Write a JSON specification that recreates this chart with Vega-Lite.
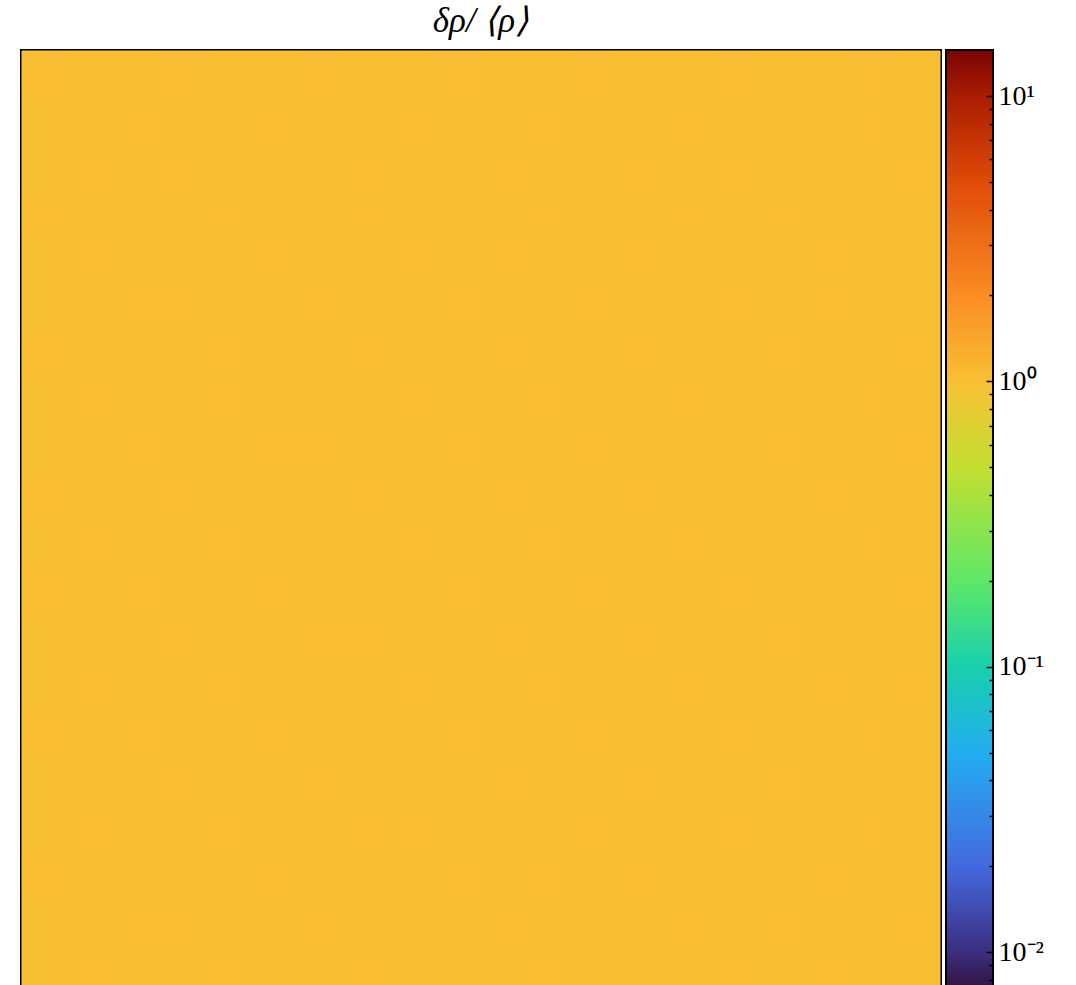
{
  "$schema": "https://vega.github.io/schema/vega-lite/v6.json",
  "width": 918,
  "height": 940,
  "autosize": {"type": "pad"},
  "padding": {"left": 21, "top": 4, "right": 10, "bottom": 0},
  "background": "white",
  "title": {
    "text": "δρ/ ⟨ρ⟩",
    "font": "Liberation Serif",
    "fontSize": 35,
    "fontStyle": "italic",
    "fontWeight": "normal",
    "color": "black",
    "anchor": "middle",
    "frame": "group",
    "offset": 11
  },
  "config": {"view": {"stroke": "black", "strokeWidth": 4, "fill": "#f9bf33"}},
  "resolve": {"scale": {"y": "independent"}, "axis": {"y": "independent"}},
  "layer": [
    {
      "data": {"values": [
        {"r":0,"c":0,"v":1.01},{"r":0,"c":1,"v":0.99},{"r":0,"c":2,"v":1.00},{"r":0,"c":3,"v":1.01},{"r":0,"c":4,"v":0.99},{"r":0,"c":5,"v":1.00},{"r":0,"c":6,"v":1.01},{"r":0,"c":7,"v":0.99},{"r":0,"c":8,"v":1.00},{"r":0,"c":9,"v":1.01},{"r":0,"c":10,"v":0.99},{"r":0,"c":11,"v":1.00},{"r":0,"c":12,"v":1.01},{"r":0,"c":13,"v":0.99},{"r":0,"c":14,"v":1.00},{"r":0,"c":15,"v":1.01},{"r":0,"c":16,"v":0.99},{"r":0,"c":17,"v":1.00},{"r":0,"c":18,"v":1.01},{"r":0,"c":19,"v":1.00},
        {"r":1,"c":0,"v":0.99},{"r":1,"c":1,"v":1.00},{"r":1,"c":2,"v":1.01},{"r":1,"c":3,"v":1.00},{"r":1,"c":4,"v":0.99},{"r":1,"c":5,"v":1.01},{"r":1,"c":6,"v":0.99},{"r":1,"c":7,"v":1.00},{"r":1,"c":8,"v":1.01},{"r":1,"c":9,"v":1.00},{"r":1,"c":10,"v":0.99},{"r":1,"c":11,"v":1.01},{"r":1,"c":12,"v":1.00},{"r":1,"c":13,"v":0.99},{"r":1,"c":14,"v":1.01},{"r":1,"c":15,"v":1.00},{"r":1,"c":16,"v":1.00},{"r":1,"c":17,"v":0.99},{"r":1,"c":18,"v":1.01},{"r":1,"c":19,"v":0.99},
        {"r":2,"c":0,"v":1.00},{"r":2,"c":1,"v":1.01},{"r":2,"c":2,"v":0.99},{"r":2,"c":3,"v":1.01},{"r":2,"c":4,"v":1.00},{"r":2,"c":5,"v":0.99},{"r":2,"c":6,"v":1.00},{"r":2,"c":7,"v":1.01},{"r":2,"c":8,"v":0.99},{"r":2,"c":9,"v":1.00},{"r":2,"c":10,"v":1.01},{"r":2,"c":11,"v":0.99},{"r":2,"c":12,"v":1.00},{"r":2,"c":13,"v":1.01},{"r":2,"c":14,"v":0.99},{"r":2,"c":15,"v":1.01},{"r":2,"c":16,"v":1.00},{"r":2,"c":17,"v":0.99},{"r":2,"c":18,"v":1.00},{"r":2,"c":19,"v":1.01},
        {"r":3,"c":0,"v":1.01},{"r":3,"c":1,"v":0.99},{"r":3,"c":2,"v":1.00},{"r":3,"c":3,"v":0.99},{"r":3,"c":4,"v":1.01},{"r":3,"c":5,"v":1.00},{"r":3,"c":6,"v":0.99},{"r":3,"c":7,"v":1.01},{"r":3,"c":8,"v":1.00},{"r":3,"c":9,"v":0.99},{"r":3,"c":10,"v":1.00},{"r":3,"c":11,"v":1.01},{"r":3,"c":12,"v":0.99},{"r":3,"c":13,"v":1.00},{"r":3,"c":14,"v":1.01},{"r":3,"c":15,"v":0.99},{"r":3,"c":16,"v":1.01},{"r":3,"c":17,"v":1.00},{"r":3,"c":18,"v":0.99},{"r":3,"c":19,"v":1.00},
        {"r":4,"c":0,"v":0.99},{"r":4,"c":1,"v":1.01},{"r":4,"c":2,"v":1.00},{"r":4,"c":3,"v":1.00},{"r":4,"c":4,"v":0.99},{"r":4,"c":5,"v":1.01},{"r":4,"c":6,"v":1.00},{"r":4,"c":7,"v":0.99},{"r":4,"c":8,"v":1.01},{"r":4,"c":9,"v":1.00},{"r":4,"c":10,"v":1.01},{"r":4,"c":11,"v":0.99},{"r":4,"c":12,"v":1.00},{"r":4,"c":13,"v":1.01},{"r":4,"c":14,"v":0.99},{"r":4,"c":15,"v":1.00},{"r":4,"c":16,"v":0.99},{"r":4,"c":17,"v":1.01},{"r":4,"c":18,"v":1.00},{"r":4,"c":19,"v":0.99},
        {"r":5,"c":0,"v":1.00},{"r":5,"c":1,"v":0.99},{"r":5,"c":2,"v":1.01},{"r":5,"c":3,"v":1.01},{"r":5,"c":4,"v":1.00},{"r":5,"c":5,"v":0.99},{"r":5,"c":6,"v":1.01},{"r":5,"c":7,"v":1.00},{"r":5,"c":8,"v":0.99},{"r":5,"c":9,"v":1.01},{"r":5,"c":10,"v":1.00},{"r":5,"c":11,"v":0.99},{"r":5,"c":12,"v":1.01},{"r":5,"c":13,"v":1.00},{"r":5,"c":14,"v":0.99},{"r":5,"c":15,"v":1.01},{"r":5,"c":16,"v":1.00},{"r":5,"c":17,"v":1.01},{"r":5,"c":18,"v":0.99},{"r":5,"c":19,"v":1.00},
        {"r":6,"c":0,"v":1.01},{"r":6,"c":1,"v":1.00},{"r":6,"c":2,"v":0.99},{"r":6,"c":3,"v":1.00},{"r":6,"c":4,"v":1.01},{"r":6,"c":5,"v":1.00},{"r":6,"c":6,"v":0.99},{"r":6,"c":7,"v":1.01},{"r":6,"c":8,"v":1.00},{"r":6,"c":9,"v":0.99},{"r":6,"c":10,"v":1.01},{"r":6,"c":11,"v":1.00},{"r":6,"c":12,"v":0.99},{"r":6,"c":13,"v":1.01},{"r":6,"c":14,"v":1.00},{"r":6,"c":15,"v":0.99},{"r":6,"c":16,"v":1.01},{"r":6,"c":17,"v":1.00},{"r":6,"c":18,"v":0.99},{"r":6,"c":19,"v":1.01},
        {"r":7,"c":0,"v":0.99},{"r":7,"c":1,"v":1.01},{"r":7,"c":2,"v":1.00},{"r":7,"c":3,"v":0.99},{"r":7,"c":4,"v":1.01},{"r":7,"c":5,"v":0.99},{"r":7,"c":6,"v":1.00},{"r":7,"c":7,"v":1.00},{"r":7,"c":8,"v":1.01},{"r":7,"c":9,"v":1.00},{"r":7,"c":10,"v":0.99},{"r":7,"c":11,"v":1.01},{"r":7,"c":12,"v":1.00},{"r":7,"c":13,"v":0.99},{"r":7,"c":14,"v":1.01},{"r":7,"c":15,"v":1.00},{"r":7,"c":16,"v":0.99},{"r":7,"c":17,"v":1.00},{"r":7,"c":18,"v":1.01},{"r":7,"c":19,"v":0.99},
        {"r":8,"c":0,"v":1.00},{"r":8,"c":1,"v":0.99},{"r":8,"c":2,"v":1.01},{"r":8,"c":3,"v":1.00},{"r":8,"c":4,"v":0.99},{"r":8,"c":5,"v":1.01},{"r":8,"c":6,"v":1.01},{"r":8,"c":7,"v":0.99},{"r":8,"c":8,"v":1.00},{"r":8,"c":9,"v":1.01},{"r":8,"c":10,"v":1.00},{"r":8,"c":11,"v":0.99},{"r":8,"c":12,"v":1.01},{"r":8,"c":13,"v":1.00},{"r":8,"c":14,"v":0.99},{"r":8,"c":15,"v":1.00},{"r":8,"c":16,"v":1.01},{"r":8,"c":17,"v":0.99},{"r":8,"c":18,"v":1.00},{"r":8,"c":19,"v":1.01},
        {"r":9,"c":0,"v":1.01},{"r":9,"c":1,"v":1.00},{"r":9,"c":2,"v":0.99},{"r":9,"c":3,"v":1.01},{"r":9,"c":4,"v":1.00},{"r":9,"c":5,"v":1.00},{"r":9,"c":6,"v":0.99},{"r":9,"c":7,"v":1.01},{"r":9,"c":8,"v":0.99},{"r":9,"c":9,"v":1.00},{"r":9,"c":10,"v":1.01},{"r":9,"c":11,"v":1.00},{"r":9,"c":12,"v":0.99},{"r":9,"c":13,"v":1.01},{"r":9,"c":14,"v":1.00},{"r":9,"c":15,"v":0.99},{"r":9,"c":16,"v":1.00},{"r":9,"c":17,"v":1.01},{"r":9,"c":18,"v":0.99},{"r":9,"c":19,"v":1.00},
        {"r":10,"c":0,"v":0.99},{"r":10,"c":1,"v":1.01},{"r":10,"c":2,"v":1.00},{"r":10,"c":3,"v":0.99},{"r":10,"c":4,"v":1.01},{"r":10,"c":5,"v":0.99},{"r":10,"c":6,"v":1.00},{"r":10,"c":7,"v":1.00},{"r":10,"c":8,"v":1.01},{"r":10,"c":9,"v":0.99},{"r":10,"c":10,"v":1.00},{"r":10,"c":11,"v":1.01},{"r":10,"c":12,"v":1.00},{"r":10,"c":13,"v":0.99},{"r":10,"c":14,"v":1.01},{"r":10,"c":15,"v":1.00},{"r":10,"c":16,"v":0.99},{"r":10,"c":17,"v":1.00},{"r":10,"c":18,"v":1.01},{"r":10,"c":19,"v":0.99},
        {"r":11,"c":0,"v":1.01},{"r":11,"c":1,"v":0.99},{"r":11,"c":2,"v":1.01},{"r":11,"c":3,"v":1.00},{"r":11,"c":4,"v":0.99},{"r":11,"c":5,"v":1.01},{"r":11,"c":6,"v":1.00},{"r":11,"c":7,"v":0.99},{"r":11,"c":8,"v":1.00},{"r":11,"c":9,"v":1.01},{"r":11,"c":10,"v":0.99},{"r":11,"c":11,"v":1.00},{"r":11,"c":12,"v":1.01},{"r":11,"c":13,"v":1.00},{"r":11,"c":14,"v":0.99},{"r":11,"c":15,"v":1.01},{"r":11,"c":16,"v":1.00},{"r":11,"c":17,"v":0.99},{"r":11,"c":18,"v":1.00},{"r":11,"c":19,"v":1.01},
        {"r":12,"c":0,"v":1.00},{"r":12,"c":1,"v":1.00},{"r":12,"c":2,"v":0.99},{"r":12,"c":3,"v":1.01},{"r":12,"c":4,"v":1.00},{"r":12,"c":5,"v":0.99},{"r":12,"c":6,"v":1.01},{"r":12,"c":7,"v":1.01},{"r":12,"c":8,"v":0.99},{"r":12,"c":9,"v":1.00},{"r":12,"c":10,"v":1.01},{"r":12,"c":11,"v":0.99},{"r":12,"c":12,"v":1.00},{"r":12,"c":13,"v":1.01},{"r":12,"c":14,"v":1.00},{"r":12,"c":15,"v":0.99},{"r":12,"c":16,"v":1.01},{"r":12,"c":17,"v":1.00},{"r":12,"c":18,"v":0.99},{"r":12,"c":19,"v":1.00},
        {"r":13,"c":0,"v":0.99},{"r":13,"c":1,"v":1.01},{"r":13,"c":2,"v":1.00},{"r":13,"c":3,"v":1.00},{"r":13,"c":4,"v":1.01},{"r":13,"c":5,"v":1.00},{"r":13,"c":6,"v":0.99},{"r":13,"c":7,"v":1.00},{"r":13,"c":8,"v":1.01},{"r":13,"c":9,"v":0.99},{"r":13,"c":10,"v":1.00},{"r":13,"c":11,"v":1.01},{"r":13,"c":12,"v":0.99},{"r":13,"c":13,"v":1.00},{"r":13,"c":14,"v":1.01},{"r":13,"c":15,"v":1.00},{"r":13,"c":16,"v":0.99},{"r":13,"c":17,"v":1.01},{"r":13,"c":18,"v":1.00},{"r":13,"c":19,"v":1.01},
        {"r":14,"c":0,"v":1.01},{"r":14,"c":1,"v":1.00},{"r":14,"c":2,"v":1.01},{"r":14,"c":3,"v":0.99},{"r":14,"c":4,"v":1.00},{"r":14,"c":5,"v":1.01},{"r":14,"c":6,"v":1.00},{"r":14,"c":7,"v":0.99},{"r":14,"c":8,"v":1.00},{"r":14,"c":9,"v":1.01},{"r":14,"c":10,"v":0.99},{"r":14,"c":11,"v":1.00},{"r":14,"c":12,"v":1.01},{"r":14,"c":13,"v":0.99},{"r":14,"c":14,"v":1.00},{"r":14,"c":15,"v":1.01},{"r":14,"c":16,"v":1.00},{"r":14,"c":17,"v":0.99},{"r":14,"c":18,"v":1.01},{"r":14,"c":19,"v":1.00},
        {"r":15,"c":0,"v":1.00},{"r":15,"c":1,"v":0.99},{"r":15,"c":2,"v":1.00},{"r":15,"c":3,"v":1.01},{"r":15,"c":4,"v":0.99},{"r":15,"c":5,"v":1.00},{"r":15,"c":6,"v":1.01},{"r":15,"c":7,"v":1.00},{"r":15,"c":8,"v":0.99},{"r":15,"c":9,"v":1.00},{"r":15,"c":10,"v":1.01},{"r":15,"c":11,"v":1.00},{"r":15,"c":12,"v":0.99},{"r":15,"c":13,"v":1.01},{"r":15,"c":14,"v":1.00},{"r":15,"c":15,"v":0.99},{"r":15,"c":16,"v":1.01},{"r":15,"c":17,"v":1.00},{"r":15,"c":18,"v":0.99},{"r":15,"c":19,"v":1.00},
        {"r":16,"c":0,"v":0.99},{"r":16,"c":1,"v":1.01},{"r":16,"c":2,"v":0.99},{"r":16,"c":3,"v":1.00},{"r":16,"c":4,"v":1.01},{"r":16,"c":5,"v":0.99},{"r":16,"c":6,"v":1.00},{"r":16,"c":7,"v":1.01},{"r":16,"c":8,"v":1.01},{"r":16,"c":9,"v":0.99},{"r":16,"c":10,"v":1.00},{"r":16,"c":11,"v":0.99},{"r":16,"c":12,"v":1.01},{"r":16,"c":13,"v":1.00},{"r":16,"c":14,"v":0.99},{"r":16,"c":15,"v":1.01},{"r":16,"c":16,"v":1.00},{"r":16,"c":17,"v":1.00},{"r":16,"c":18,"v":1.01},{"r":16,"c":19,"v":0.99},
        {"r":17,"c":0,"v":1.01},{"r":17,"c":1,"v":1.00},{"r":17,"c":2,"v":1.00},{"r":17,"c":3,"v":0.99},{"r":17,"c":4,"v":1.00},{"r":17,"c":5,"v":1.01},{"r":17,"c":6,"v":0.99},{"r":17,"c":7,"v":1.00},{"r":17,"c":8,"v":1.00},{"r":17,"c":9,"v":1.01},{"r":17,"c":10,"v":0.99},{"r":17,"c":11,"v":1.01},{"r":17,"c":12,"v":1.00},{"r":17,"c":13,"v":1.01},{"r":17,"c":14,"v":0.99},{"r":17,"c":15,"v":1.00},{"r":17,"c":16,"v":0.99},{"r":17,"c":17,"v":1.01},{"r":17,"c":18,"v":1.00},{"r":17,"c":19,"v":1.00},
        {"r":18,"c":0,"v":1.00},{"r":18,"c":1,"v":0.99},{"r":18,"c":2,"v":1.01},{"r":18,"c":3,"v":1.01},{"r":18,"c":4,"v":0.99},{"r":18,"c":5,"v":1.00},{"r":18,"c":6,"v":1.01},{"r":18,"c":7,"v":0.99},{"r":18,"c":8,"v":1.00},{"r":18,"c":9,"v":1.00},{"r":18,"c":10,"v":1.01},{"r":18,"c":11,"v":0.99},{"r":18,"c":12,"v":1.00},{"r":18,"c":13,"v":0.99},{"r":18,"c":14,"v":1.01},{"r":18,"c":15,"v":0.99},{"r":18,"c":16,"v":1.01},{"r":18,"c":17,"v":1.00},{"r":18,"c":18,"v":0.99},{"r":18,"c":19,"v":1.01},
        {"r":19,"c":0,"v":0.99},{"r":19,"c":1,"v":1.01},{"r":19,"c":2,"v":1.00},{"r":19,"c":3,"v":1.00},{"r":19,"c":4,"v":1.01},{"r":19,"c":5,"v":0.99},{"r":19,"c":6,"v":1.00},{"r":19,"c":7,"v":1.01},{"r":19,"c":8,"v":0.99},{"r":19,"c":9,"v":1.00},{"r":19,"c":10,"v":1.00},{"r":19,"c":11,"v":1.01},{"r":19,"c":12,"v":0.99},{"r":19,"c":13,"v":1.00},{"r":19,"c":14,"v":1.00},{"r":19,"c":15,"v":1.01},{"r":19,"c":16,"v":0.99},{"r":19,"c":17,"v":1.01},{"r":19,"c":18,"v":1.00},{"r":19,"c":19,"v":0.99}
      ]},
      "mark": {"type": "rect", "stroke": "#f9bf33", "strokeWidth": 1},
      "encoding": {
        "x": {"field": "c", "type": "ordinal", "axis": null, "scale": {"paddingInner": 0, "paddingOuter": 0}},
        "y": {"field": "r", "type": "ordinal", "axis": null, "scale": {"paddingInner": 0, "paddingOuter": 0}},
        "color": {
          "field": "v",
          "type": "quantitative",
          "scale": {
            "type": "log",
            "nice": false,
            "interpolate": "rgb",
            "domain": [0.0073, 0.01, 0.02, 0.05, 0.1, 0.2, 0.5, 1, 2, 5, 10, 14.38],
            "range": ["#30123b", "#3b2f80", "#4469e0", "#22aef0", "#18d0ad", "#5fe866", "#c3df30", "#f9bf33", "#fa8c23", "#e04a08", "#a81c02", "#7a0403"]
          },
          "legend": {
            "orient": "none",
            "legendX": 924,
            "legendY": -1,
            "direction": "vertical",
            "gradientLength": 941,
            "gradientThickness": 47,
            "gradientStrokeColor": "black",
            "gradientStrokeWidth": 2,
            "title": null,
            "labelExpr": "''",
            "labelOpacity": 0,
            "padding": 0
          }
        }
      }
    },
    {
      "data": {"values": [{"lo": 0.0073, "hi": 14.38}]},
      "mark": {"type": "rule", "opacity": 0},
      "encoding": {
        "y": {
          "field": "lo",
          "type": "quantitative",
          "scale": {"type": "log", "domain": [0.0073, 14.38], "nice": false},
          "axis": {
            "orient": "right",
            "offset": 53,
            "zindex": 2,
            "title": null,
            "domain": false,
            "grid": false,
            "values": [0.008, 0.009, 0.01, 0.02, 0.03, 0.04, 0.05, 0.06, 0.07, 0.08, 0.09, 0.1, 0.2, 0.3, 0.4, 0.5, 0.6, 0.7, 0.8, 0.9, 1, 2, 3, 4, 5, 6, 7, 8, 9, 10],
            "labelExpr": "datum.value == 10 ? '10¹' : datum.value == 1 ? '10⁰' : datum.value == 0.1 ? '10⁻¹' : datum.value == 0.01 ? '10⁻²' : ''",
            "labelFont": "Liberation Serif",
            "labelFontSize": 28,
            "labelColor": "black",
            "labelBaseline": "middle",
            "labelAlign": "left",
            "labelPadding": 12,
            "labelFlush": false,
            "labelOverlap": false,
            "tickColor": "black",
            "tickWidth": 1.5,
            "tickSize": {"condition": {"test": "datum.value == 10 || datum.value == 1 || datum.value == 0.1 || datum.value == 0.01", "value": -7}, "value": -4}
          }
        }
      }
    }
  ]
}
